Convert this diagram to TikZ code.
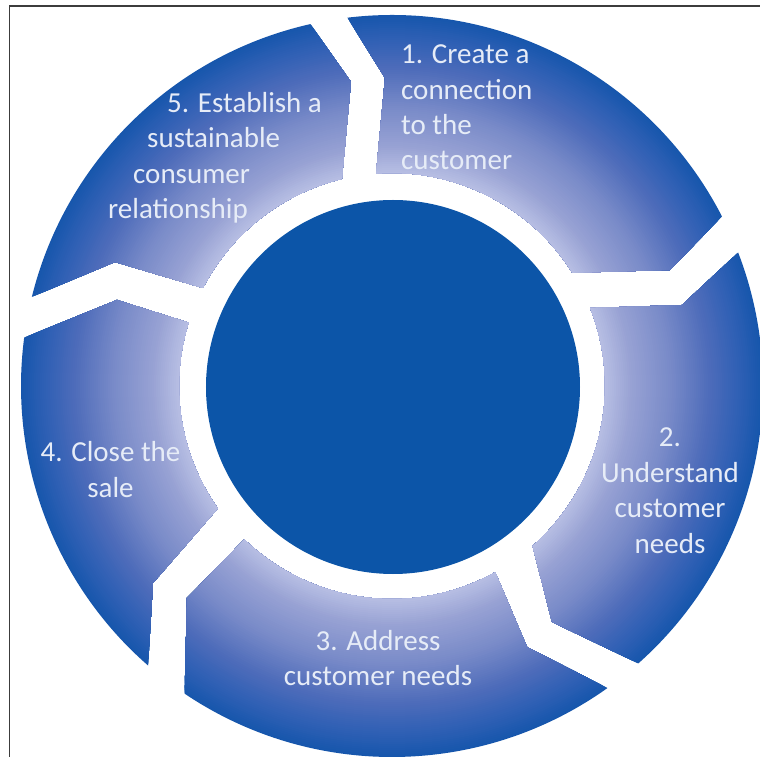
\documentclass[tikz,border=0pt]{standalone}
\usepackage{fontspec}
\setmainfont{Carlito}
\definecolor{ringA}{RGB}{188,195,230}
\definecolor{ringB}{RGB}{152,162,212}
\definecolor{ringC}{RGB}{120,138,200}
\definecolor{ringD}{RGB}{78,108,186}
\definecolor{ringE}{RGB}{45,95,180}
\definecolor{ringF}{RGB}{22,86,172}
\definecolor{hub}{RGB}{12,85,168}
\definecolor{txt}{RGB}{230,236,247}
\definecolor{framec}{RGB}{60,60,60}
\tikzset{
  lbl/.style={text=txt, font=\fontsize{29}{35}\selectfont, inner sep=0pt},
  lblw/.style={lbl, anchor=base west},
  lblc/.style={lbl, anchor=base},
  framestroke/.style={draw=framec, line width=1.2}
}
% #1 outer radius, #2 inner radius, #3 outer colour, #4 inner colour
\newcommand{\ringband}[4]{%
  \pgfmathtruncatemacro\nsteps{(#1-#2)/2}%
  \foreach \k in {0,...,\nsteps}{%
    \pgfmathsetmacro\rr{#1-2*\k}%
    \pgfmathsetmacro\pp{100*\k/\nsteps}%
    \fill[#4!\pp!#3] (0,0) circle (\rr);
  }%
}
\newcommand{\ringfill}{%
  \ringband{372}{350}{ringF}{ringE}%
  \ringband{350}{318}{ringE}{ringD}%
  \ringband{318}{280}{ringD}{ringC}%
  \ringband{280}{240}{ringC}{ringB}%
  \ringband{240}{210}{ringB}{ringA}%
}
\begin{document}
\begin{tikzpicture}[x=1pt,y=1pt]
\useasboundingbox (-392,-371) rectangle (368,386);
\fill[white] (-392,-371) rectangle (368,386);
% segment 1
\begin{scope}
\clip (96.9:371) arc[start angle=96.9, end angle=27.2, radius=371] -- (278,116) -- (32.1:213) arc[start angle=32.1, end angle=94.3, radius=213] -- (-7,308) -- cycle;
\ringfill
\end{scope}
% segment 2
\begin{scope}
\clip (21.1:371) arc[start angle=21.1, end angle=-48.4, radius=371] -- (160,-236) -- (-48.7:213) arc[start angle=-48.7, end angle=21.5, radius=213] -- (290,81) -- cycle;
\ringfill
\end{scope}
% segment 3
\begin{scope}
\clip (-54.5:371) arc[start angle=-54.5, end angle=-124, radius=371] -- (-205,-212) -- (-133.9:213) arc[start angle=-133.9, end angle=-61, radius=213] -- (135,-261) -- cycle;
\ringfill
\end{scope}
% segment 4
\begin{scope}
\clip (-131.1:371) arc[start angle=-131.1, end angle=-187.5, radius=371] -- (-275,86) -- (-197.3:213) arc[start angle=-197.3, end angle=-144.9, radius=213] -- (-239,-197) -- cycle;
\ringfill
\end{scope}
% segment 5
\begin{scope}
\clip (166.1:371) arc[start angle=166.1, end angle=102.7, radius=371] -- (-41,304) -- (103.6:213) arc[start angle=103.6, end angle=152.6, radius=213] -- (-277,124) -- cycle;
\ringfill
\end{scope}
% hub
\fill[hub] (1,-1) circle (187);
% frame
\draw[framestroke] (-382.5,-371) -- (-382.5,380) -- (368,380);
% texts
\node[lblw] (t1a) at (9,322) {1. Create a};
\node[lblw] (t1b) at (9,286.7) {connection};
\node[lblw] (t1c) at (9,251.4) {to the};
\node[lblw] (t1d) at (9,216.1) {customer};
\node[lblc] (t2a) at (278,-60.5) {2.};
\node[lblc] (t2b) at (278,-96) {Understand};
\node[lblc] (t2c) at (278,-131.6) {customer};
\node[lblc] (t2d) at (278,-167.2) {needs};
\node[lblc] (t3a) at (-14,-264) {3. Address};
\node[lblc] (t3b) at (-14,-299.5) {customer needs};
\node[lblc] (t4a) at (-281.5,-75.5) {4. Close the};
\node[lblc] (t4b) at (-281.5,-111) {sale};
\node[lblw] (t5a) at (-225,273.5) {5. Establish a};
\node[lblw] (t5b) at (-245,238) {sustainable};
\node[lblw] (t5c) at (-259,202.5) {consumer};
\node[lblw] (t5d) at (-284,167) {relationship};
\end{tikzpicture}
\end{document}
